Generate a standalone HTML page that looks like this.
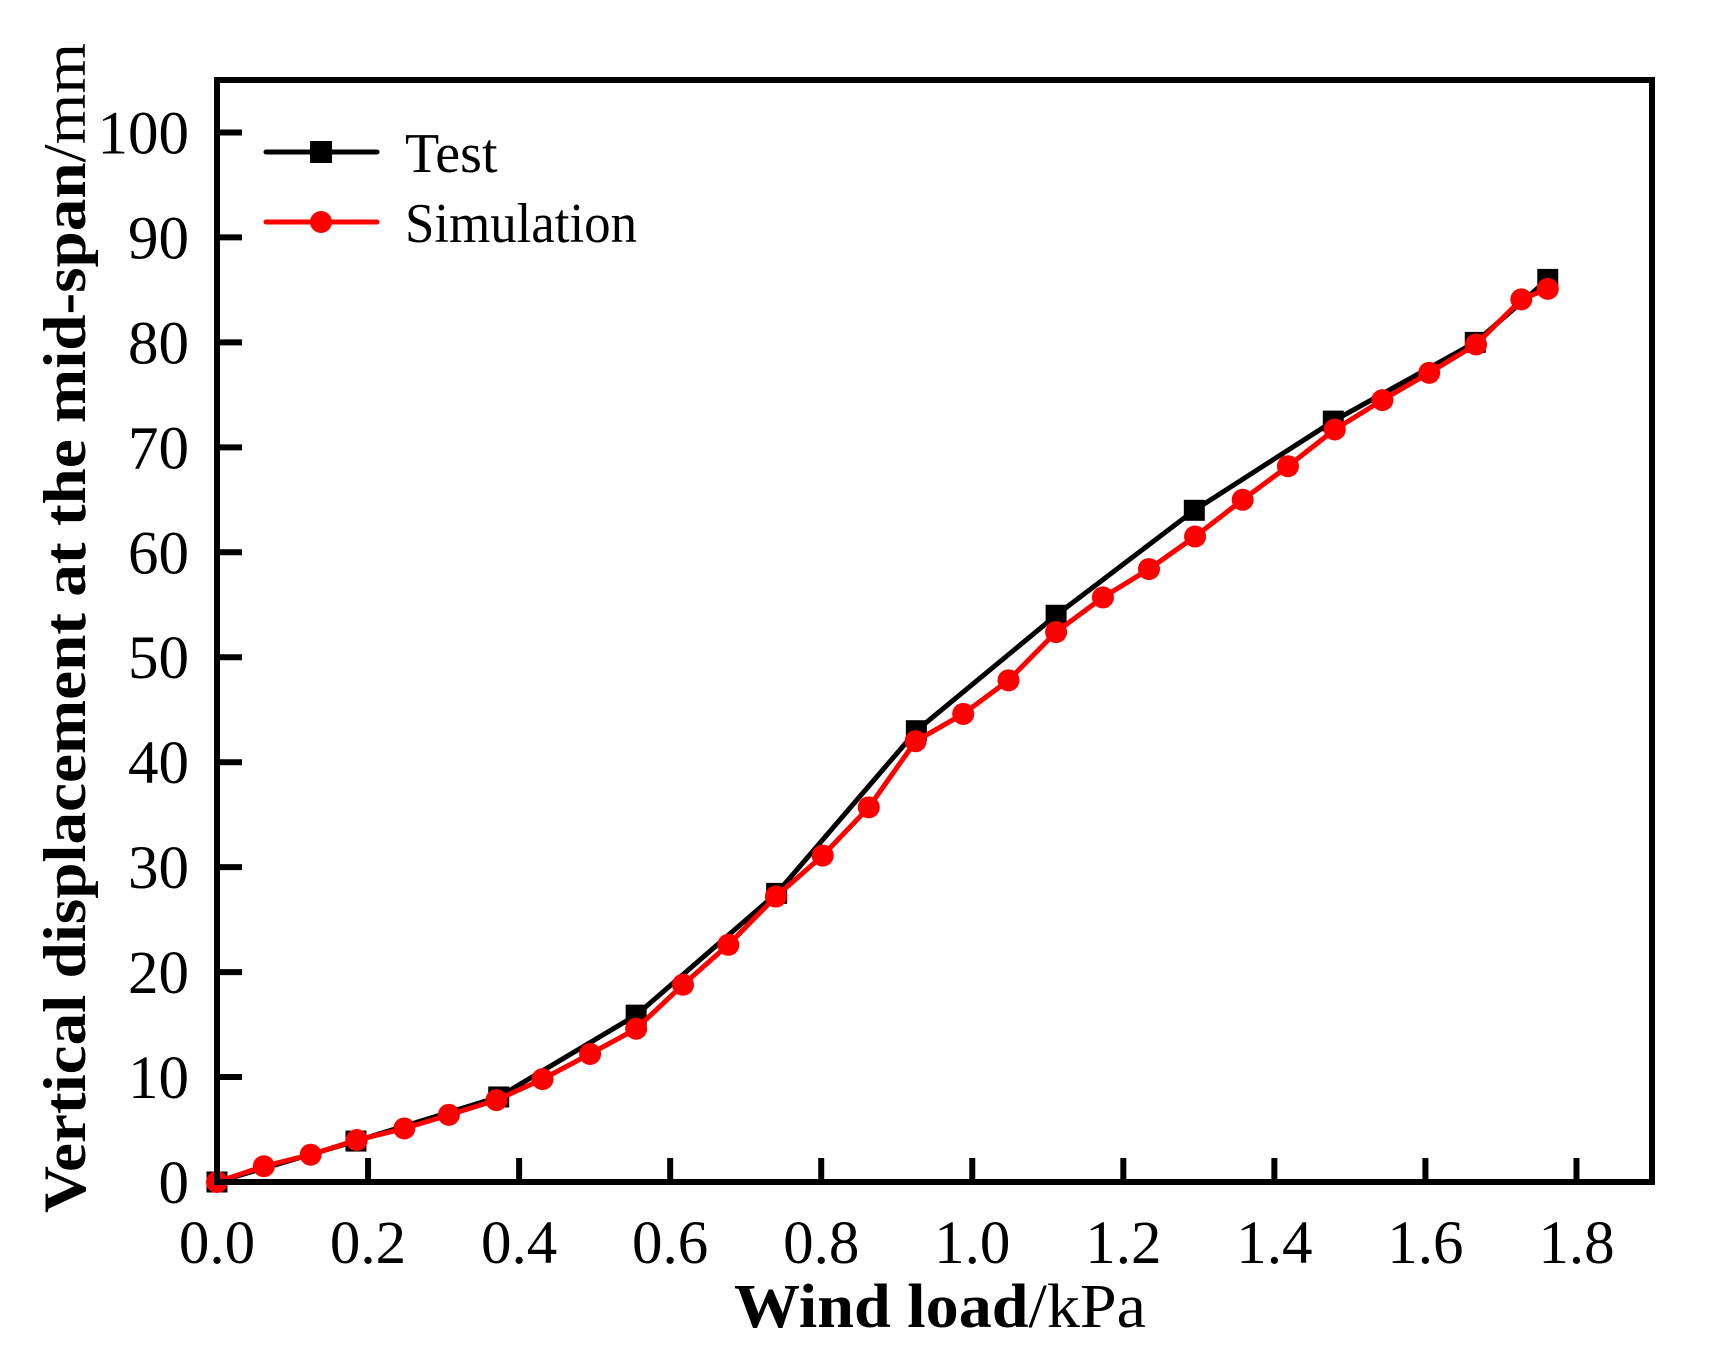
<!DOCTYPE html>
<html><head><meta charset="utf-8"><style>html,body{margin:0;padding:0;background:#fff}</style></head>
<body>
<svg id="chart" width="1711" height="1358" xmlns="http://www.w3.org/2000/svg" font-family="'Liberation Serif', serif">
<g id="plot"></g>
<g>
  <g>
    <line x1="266" x2="377" y1="152" y2="152" stroke="#000" stroke-width="5" stroke-linecap="round"/>
    <rect x="310" y="141" width="22" height="22" fill="#000"/>
    <text x="405" y="172" font-size="56">Test</text>
  </g>
  <g>
    <line x1="266" x2="377" y1="222" y2="222" stroke="#ff0000" stroke-width="5" stroke-linecap="round"/>
    <circle cx="321" cy="222" r="11" fill="#ff0000"/>
    <text x="405" y="242" font-size="56" textLength="232" lengthAdjust="spacingAndGlyphs">Simulation</text>
  </g>
</g>
<text transform="translate(85,628) rotate(-90)" text-anchor="middle" font-size="60" textLength="1170" lengthAdjust="spacingAndGlyphs"><tspan font-weight="bold">Vertical displacement at the mid-span</tspan><tspan>/mm</tspan></text>
<text x="940" y="1327" text-anchor="middle" font-size="62" textLength="412" lengthAdjust="spacingAndGlyphs"><tspan font-weight="bold">Wind load</tspan><tspan>/kPa</tspan></text>
</svg>
<script>
const xTicks=[0,0.2,0.4,0.6,0.8,1.0,1.2,1.4,1.6,1.8];
const xTickLabels=["0.0","0.2","0.4","0.6","0.8","1.0","1.2","1.4","1.6","1.8"];
const yTicks=[0,10,20,30,40,50,60,70,80,90,100];
const testX=[0,0.184,0.373,0.555,0.741,0.926,1.111,1.294,1.478,1.666,1.762];
const testY=[0,3.9,8.1,15.9,27.5,43,54,64,72.5,80,86];
const simX=[0,0.062,0.124,0.185,0.248,0.307,0.37,0.431,0.494,0.555,0.617,0.677,0.74,0.802,0.863,0.925,0.988,1.048,1.111,1.173,1.234,1.295,1.358,1.418,1.48,1.543,1.605,1.667,1.727,1.762];
const simY=[0,1.5,2.6,4.0,5.1,6.4,7.8,9.8,12.2,14.6,18.8,22.6,27.2,31.1,35.7,42.0,44.6,47.8,52.4,55.7,58.4,61.5,65.0,68.2,71.7,74.5,77.1,79.8,84.1,85.1];

const L=217,R=1652,T=80,B=1182;
const X=v=>L+v/1.9*(R-L);
const Y=v=>B-v/105*(B-T);
const NS="http://www.w3.org/2000/svg";
const g=document.getElementById('plot');
function mk(t,a){const e=document.createElementNS(NS,t);for(const k in a)e.setAttribute(k,a[k]);g.appendChild(e);return e;}

xTicks.forEach((v,i)=>{
  const t=mk('line',{x1:X(v),x2:X(v),y1:B,y2:B-24,stroke:'#000','stroke-width':6});
  
  
  const l=mk('text',{x:X(v),y:1263,'font-size':61,'text-anchor':'middle'});
  l.textContent=xTickLabels[i];
  
  
});
yTicks.forEach(v=>{
  const t=mk('line',{x1:L,x2:L+25,y1:Y(v),y2:Y(v),stroke:'#000','stroke-width':6});
  
  
  const l=mk('text',{x:189,y:Y(v)+21,'font-size':61,'text-anchor':'end'});
  l.textContent=String(v);
  
  
});

function series(xs,ys,color,kind,name){
  const pl=mk('polyline',{points:xs.map((x,i)=>X(x)+','+Y(ys[i])).join(' '),fill:'none',stroke:color,'stroke-width':5,'stroke-linejoin':'round'});
  
  
  xs.forEach((x,i)=>{
    let m;
    if(kind==='sq') m=mk('rect',{x:X(x)-10.5,y:Y(ys[i])-10.5,width:21,height:21,fill:color});
    else m=mk('circle',{cx:X(x),cy:Y(ys[i]),r:11,fill:color});
    
    
  });
}
series(testX,testY,'#000','sq','test');
series(simX,simY,'#ff0000','ci','simulation');

const fr=mk('rect',{x:L,y:T,width:R-L,height:B-T,fill:'none',stroke:'#000','stroke-width':6});


</script>
</body></html>
